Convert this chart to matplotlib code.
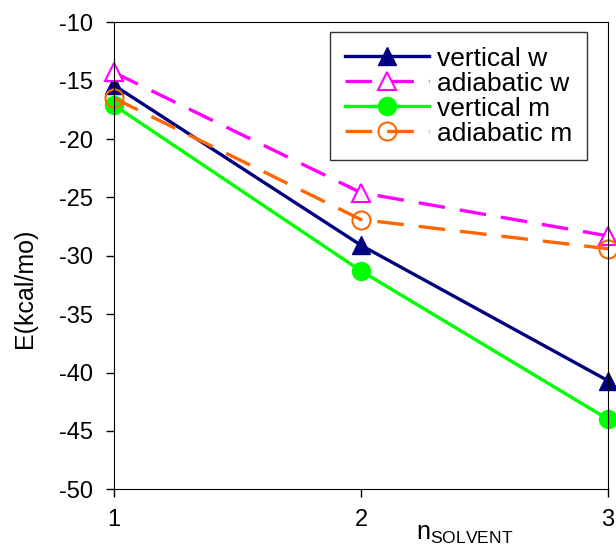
import numpy as np
from matplotlib import pyplot as plt

plt.rcParams['font.family'] = ['Liberation Sans', 'DejaVu Sans']
plt.rcParams['axes.unicode_minus'] = False

n_solvent = [1, 2, 3]
vertical_w = [-15.4, -29.1, -40.7]
adiabatic_w = [-14.3, -24.6, -28.3]
vertical_m = [-17.1, -31.3, -44.0]
adiabatic_m = [-16.5, -26.9, -29.4]

fig = plt.figure(figsize=(6.16, 5.56), dpi=100)
ax = fig.add_axes([0.185, 0.12, 0.802, 0.84])

ax.plot(n_solvent, vertical_w, color='#000080', lw=2.4, marker='^', ms=13,
        label='vertical w', clip_on=False)
ax.plot(n_solvent, adiabatic_w, color='#FF00FF', lw=2.4, marker='^', ms=13,
        mfc='white', mew=1.5, dashes=(8, 4.5), label='adiabatic w', clip_on=False)
ax.plot(n_solvent, vertical_m, color='#00FF00', lw=2.4, marker='o', ms=13,
        label='vertical m', clip_on=False)
ax.plot(n_solvent, adiabatic_m, color='#FF6600', lw=2.4, marker='o', ms=13,
        mfc='none', mew=1.5, dashes=(8, 4.5), label='adiabatic m', clip_on=False)

ax.set_xlim(1, 3)
ax.set_ylim(-50, -10)
ax.set_xticks([1, 2, 3])
ax.set_yticks(np.arange(-50, -5, 5))
ax.tick_params(direction='out', length=6, width=1, labelsize=17)
ax.tick_params(axis='x', pad=8)
ax.tick_params(axis='y', pad=9)

ax.set_ylabel('E(kcal/mo)', fontsize=18)
ax.yaxis.set_label_coords(-0.155, 0.43)
ax.set_xlabel(r'n$_\mathregular{SOLVENT}$', fontsize=18)
ax.xaxis.set_label_coords(0.71, -0.095)
ax.xaxis.label.set_va('center')

leg = ax.legend(loc='upper right', bbox_to_anchor=(0.957, 0.979), fontsize=19,
                frameon=True, fancybox=False, edgecolor='black', handlelength=3.2,
                labelspacing=0.04, borderpad=0.55, handletextpad=0.3,
                borderaxespad=0)
leg.get_frame().set_linewidth(1)

plt.savefig('out.png')
